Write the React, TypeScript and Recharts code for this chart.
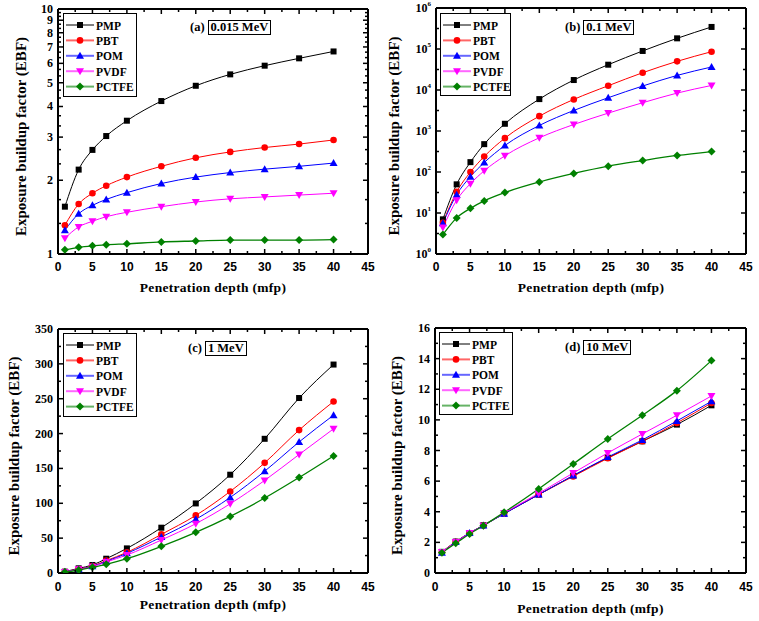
import { LineChart, Line, XAxis, YAxis, Label } from 'recharts';

const DEPTHS = [1, 3, 5, 7, 10, 15, 20, 25, 30, 35, 40];
const SERIES_NAMES = ['PMP', 'PBT', 'POM', 'PVDF', 'PCTFE'];
const SERIES_COLORS = ['#000000', '#ff0000', '#0000ff', '#ff00ff', '#008000'];
const SERIES_SHAPES = ['square', 'circle', 'up', 'down', 'diamond'];

// (a) 0.015 MeV
const PMP_A = [1.56, 2.21, 2.66, 3.03, 3.5, 4.21, 4.86, 5.41, 5.87, 6.29, 6.71];
const PBT_A = [1.31, 1.6, 1.77, 1.9, 2.06, 2.28, 2.47, 2.61, 2.72, 2.81, 2.92];
const POM_A = [1.25, 1.46, 1.58, 1.67, 1.78, 1.94, 2.06, 2.15, 2.22, 2.28, 2.35];
const PVDF_A = [1.16, 1.29, 1.36, 1.42, 1.48, 1.56, 1.63, 1.68, 1.71, 1.74, 1.77];
const PCTFE_A = [1.04, 1.065, 1.08, 1.09, 1.1, 1.12, 1.13, 1.14, 1.14, 1.14, 1.145];

// (b) 0.1 MeV
const PMP_B = [7.0, 50, 174, 478, 1500, 6000, 17500, 41400, 89600, 182000, 345000];
const PBT_B = [5.8, 32.7, 100, 239, 670, 2300, 5890, 12700, 26400, 50000, 86000];
const POM_B = [5.6, 28, 77, 170, 443, 1365, 3170, 6480, 12500, 22700, 36400];
const PVDF_B = [4.4, 20.5, 52, 107, 248, 682, 1440, 2730, 4890, 8410, 12900];
const PCTFE_B = [2.97, 7.6, 13.0, 19.7, 31.5, 57, 92, 139, 190, 253, 316];

// (c) 1 MeV
const PMP_C = [1.9, 6.7, 11.5, 20.5, 35.3, 65, 99.8, 141, 192.5, 251, 299];
const PBT_C = [1.7, 5.7, 10, 17.7, 29.6, 55.4, 82.6, 117, 158, 205, 246];
const POM_C = [1.7, 5.3, 9.6, 16.7, 28.2, 51.6, 77, 108.4, 146, 188, 226.4];
const PVDF_C = [1.6, 5.2, 9.1, 15.8, 25.8, 47.3, 70.7, 99.3, 132.8, 170, 206.8];
const PCTFE_C = [1.4, 4.3, 8.1, 12.4, 20.5, 38.2, 58.3, 81.2, 107.5, 137, 168];

// (d) 10 MeV
const PMP_D = [1.38, 2.05, 2.61, 3.12, 3.88, 5.12, 6.36, 7.53, 8.6, 9.69, 10.95];
const PBT_D = [1.36, 2.03, 2.6, 3.1, 3.88, 5.12, 6.31, 7.49, 8.6, 9.8, 11.1];
const POM_D = [1.33, 2.02, 2.61, 3.1, 3.87, 5.12, 6.36, 7.57, 8.69, 9.93, 11.21];
const PVDF_D = [1.37, 2.02, 2.61, 3.09, 3.92, 5.2, 6.53, 7.84, 9.08, 10.3, 11.56];
const PCTFE_D = [1.33, 1.94, 2.55, 3.09, 3.96, 5.49, 7.12, 8.75, 10.3, 11.91, 13.87];

const X_TICKS = [0, 2.5, 5, 7.5, 10, 12.5, 15, 17.5, 20, 22.5, 25, 27.5, 30, 32.5, 35, 37.5, 40, 42.5, 45];
const Y_TICKS_A = [1, 1.333, 1.667, 2, 2.333, 2.667, 3, 3.333, 3.667, 4, 4.333, 4.667, 5, 5.333, 5.667, 6, 6.333, 6.667, 7, 7.333, 7.667, 8, 8.333, 8.667, 9, 9.333, 9.667, 10];
const Y_TICKS_B = [1, 3.162, 10, 31.62, 100, 316.2, 1000, 3162, 10000, 31623, 100000, 316228, 1000000];
const Y_TICKS_C = [0, 25, 50, 75, 100, 125, 150, 175, 200, 225, 250, 275, 300, 325, 350];
const Y_TICKS_D = [0, 1, 2, 3, 4, 5, 6, 7, 8, 9, 10, 11, 12, 13, 14, 15, 16];

const SERIF = '"Liberation Serif", "Times New Roman", serif';
const SANS = '"Liberation Sans", Arial, sans-serif';

function buildRows(cols: number[][]) {
  return DEPTHS.map((d, i) => {
    const row: Record<string, number> = { x: d };
    SERIES_NAMES.forEach((n, k) => (row[n] = cols[k][i]));
    return row;
  });
}

function Marker({ shape, cx, cy, color }: { shape: string; cx: number; cy: number; color: string }) {
  if (shape === 'square') return <rect x={cx - 3} y={cy - 3} width={6} height={6} fill={color} />;
  if (shape === 'circle') return <circle cx={cx} cy={cy} r={3.3} fill={color} />;
  if (shape === 'up') return <polygon points={`${cx},${cy - 4} ${cx - 4},${cy + 3} ${cx + 4},${cy + 3}`} fill={color} />;
  if (shape === 'down') return <polygon points={`${cx},${cy + 4} ${cx - 4},${cy - 3} ${cx + 4},${cy - 3}`} fill={color} />;
  return <polygon points={`${cx},${cy - 4} ${cx + 4},${cy} ${cx},${cy + 4} ${cx - 4},${cy}`} fill={color} />;
}

const isMajorX = (v: number) => v % 5 === 0;

function makeTick(side: string, isMajor: (v: number) => boolean, label?: (v: number) => any, off = 17) {
  return (props: any) => {
    const { x, y, payload } = props;
    const v = payload.value;
    const len = isMajor(v) ? 5 : 3;
    let line;
    if (side === 'bottom') line = <line x1={x} x2={x} y1={y} y2={y - len} stroke="#000" strokeWidth={1.5} />;
    else if (side === 'top') line = <line x1={x} x2={x} y1={y} y2={y + len} stroke="#000" strokeWidth={1.5} />;
    else if (side === 'left') line = <line x1={x} x2={x + len} y1={y} y2={y} stroke="#000" strokeWidth={1.5} />;
    else line = <line x1={x} x2={x - len} y1={y} y2={y} stroke="#000" strokeWidth={1.5} />;
    let text = null;
    if (label && isMajor(v)) {
      if (side === 'bottom')
        text = (
          <text x={x} y={y + off} textAnchor="middle" fontFamily={SANS} fontWeight="bold" fontSize={12} fill="#000">
            {label(v)}
          </text>
        );
      else
        text = (
          <text x={x - 5} y={y + 4} textAnchor="end" fontFamily={SERIF} fontWeight="bold" fontSize={12} fill="#000">
            {label(v)}
          </text>
        );
    }
    return (
      <g>
        {line}
        {text}
      </g>
    );
  };
}

const powLabel = (v: number) => {
  const e = Math.round(Math.log10(v));
  return (
    <>
      <tspan>10</tspan>
      <tspan dy={-6} fontSize={7}>
        {e}
      </tspan>
    </>
  );
};

interface PanelProps {
  left: number;
  top: number;
  width: number;
  height: number;
  plot: { l: number; t: number; r: number; b: number };
  cols: number[][];
  log?: boolean;
  yDomain: number[];
  yTicks: number[];
  isMajorY: (v: number) => boolean;
  yLabel: (v: number) => any;
  yTitleX: number;
  xTitleY: number;
  xTickOff: number;
  letter: string;
  energy: string;
  tagPos: { x: number; y: number };
  legendPos: { x: number; y: number; w: number; h: number };
}

function Panel(p: PanelProps) {
  const rows = buildRows(p.cols);
  const rightW = p.width - p.plot.r;
  const bottomH = p.height - p.plot.b;
  return (
    <div style={{ position: 'absolute', left: p.left, top: p.top, width: p.width, height: p.height }}>
      <LineChart width={p.width} height={p.height} data={rows} margin={{ top: 0, right: 0, bottom: 0, left: 0 }}>
        <XAxis
          xAxisId="bottom"
          dataKey="x"
          type="number"
          domain={[0, 45]}
          ticks={X_TICKS}
          interval={0}
          height={bottomH}
          tickSize={0}
          tickMargin={0}
          tickLine={false}
          axisLine={{ stroke: '#000', strokeWidth: 2 }}
          tick={makeTick('bottom', isMajorX, (v) => v, p.xTickOff)}
        >
          <Label
            content={(lp: any) => {
              const vb = lp.viewBox;
              return (
                <text
                  x={vb.x + vb.width / 2}
                  y={p.xTitleY + 4.5}
                  textAnchor="middle"
                  fontFamily={SERIF}
                  fontWeight="bold"
                  fontSize={13.5}
                  letterSpacing={0.3}
                  fill="#000"
                >
                  Penetration depth (mfp)
                </text>
              );
            }}
          />
        </XAxis>
        <XAxis
          xAxisId="top"
          orientation="top"
          dataKey="x"
          type="number"
          domain={[0, 45]}
          ticks={X_TICKS}
          interval={0}
          height={p.plot.t}
          tickSize={0}
          tickMargin={0}
          tickLine={false}
          axisLine={{ stroke: '#000', strokeWidth: 2 }}
          tick={makeTick('top', isMajorX)}
        />
        <YAxis
          yAxisId="left"
          type="number"
          scale={p.log ? 'log' : 'linear'}
          domain={p.yDomain}
          ticks={p.yTicks}
          interval={0}
          width={p.plot.l}
          tickSize={0}
          tickMargin={0}
          tickLine={false}
          allowDataOverflow
          axisLine={{ stroke: '#000', strokeWidth: 2 }}
          tick={makeTick('left', p.isMajorY, p.yLabel)}
        >
          <Label
            content={(lp: any) => {
              const vb = lp.viewBox;
              const cy = vb.y + vb.height / 2 + 5;
              return (
                <text
                  transform={`translate(${p.yTitleX + 5},${cy}) rotate(-90)`}
                  textAnchor="middle"
                  fontFamily={SERIF}
                  fontWeight="bold"
                  fontSize={15}
                  fill="#000"
                >
                  Exposure buildup factor (EBF)
                </text>
              );
            }}
          />
        </YAxis>
        <YAxis
          yAxisId="right"
          orientation="right"
          type="number"
          scale={p.log ? 'log' : 'linear'}
          domain={p.yDomain}
          ticks={p.yTicks}
          interval={0}
          width={rightW}
          tickSize={0}
          tickMargin={0}
          tickLine={false}
          allowDataOverflow
          axisLine={{ stroke: '#000', strokeWidth: 2 }}
          tick={makeTick('right', p.isMajorY)}
        />
        {SERIES_NAMES.map((n, k) => (
          <Line
            key={n}
            xAxisId="bottom"
            yAxisId="left"
            dataKey={n}
            type="monotone"
            stroke={SERIES_COLORS[k]}
            strokeWidth={k === 4 ? 1.3 : 1}
            isAnimationActive={false}
            dot={(dp: any) => (
              <Marker key={`${n}-${dp.index}`} shape={SERIES_SHAPES[k]} cx={dp.cx} cy={dp.cy} color={SERIES_COLORS[k]} />
            )}
            activeDot={false}
          />
        ))}
      </LineChart>
      <div
        style={{
          position: 'absolute',
          left: p.legendPos.x,
          top: p.legendPos.y,
          width: p.legendPos.w,
          height: p.legendPos.h,
          border: '1px solid #000',
          boxSizing: 'border-box',
          background: '#fff',
        }}
      >
        <svg width={p.legendPos.w - 2} height={p.legendPos.h - 2} style={{ display: 'block' }}>
          {SERIES_NAMES.map((n, k) => {
            const cy = 11 + k * 15.4;
            return (
              <g key={n}>
                <line x1={2} x2={30} y1={cy} y2={cy} stroke={SERIES_COLORS[k]} strokeWidth={k === 0 ? 1 : 2} strokeOpacity={k === 0 ? 1 : 0.6} />
                <Marker shape={SERIES_SHAPES[k]} cx={16} cy={cy} color={SERIES_COLORS[k]} />
                <text x={32} y={cy + 4.5} fontFamily={SERIF} fontWeight="bold" fontSize={11.5} fill="#000">
                  {n}
                </text>
              </g>
            );
          })}
        </svg>
      </div>
      <div
        style={{
          position: 'absolute',
          left: p.tagPos.x,
          top: p.tagPos.y,
          fontFamily: SERIF,
          fontWeight: 'bold',
          fontSize: 12.5,
          lineHeight: '13px',
          whiteSpace: 'nowrap',
          display: 'flex',
          alignItems: 'center',
        }}
      >
        <span>({p.letter})</span>
        <span style={{ border: '1px solid #000', padding: '0 2px', marginLeft: 3 }}>{p.energy}</span>
      </div>
    </div>
  );
}

export default function App() {
  return (
    <div style={{ position: 'absolute', left: 0, top: 0, width: 759, height: 621, background: '#fff' }}>
      <Panel
        left={0}
        top={0}
        width={380}
        height={300}
        plot={{ l: 58, t: 9, r: 368, b: 254 }}
        cols={[PMP_A, PBT_A, POM_A, PVDF_A, PCTFE_A]}
        log
        yDomain={[1, 10]}
        yTicks={Y_TICKS_A}
        isMajorY={(v) => Math.abs(v - Math.round(v)) < 0.01}
        yLabel={(v) => Math.round(v)}
        yTitleX={21}
        xTitleY={287}
        xTickOff={17}
        letter="a"
        energy="0.015 MeV"
        tagPos={{ x: 190, y: 20 }}
        legendPos={{ x: 63, y: 13, w: 74, h: 84 }}
      />
      <Panel
        left={380}
        top={0}
        width={379}
        height={300}
        plot={{ l: 56, t: 8, r: 366, b: 254 }}
        cols={[PMP_B, PBT_B, POM_B, PVDF_B, PCTFE_B]}
        log
        yDomain={[1, 1000000]}
        yTicks={Y_TICKS_B}
        isMajorY={(v) => Math.abs(Math.log10(v) - Math.round(Math.log10(v))) < 0.01}
        yLabel={powLabel}
        yTitleX={14}
        xTitleY={287}
        xTickOff={17}
        letter="b"
        energy="0.1 MeV"
        tagPos={{ x: 185, y: 20 }}
        legendPos={{ x: 60, y: 13, w: 71, h: 83 }}
      />
      <Panel
        left={0}
        top={300}
        width={380}
        height={321}
        plot={{ l: 58, t: 29, r: 368, b: 273 }}
        cols={[PMP_C, PBT_C, POM_C, PVDF_C, PCTFE_C]}
        yDomain={[0, 350]}
        yTicks={Y_TICKS_C}
        isMajorY={(v) => v % 50 === 0}
        yLabel={(v) => v}
        yTitleX={14}
        xTitleY={304}
        xTickOff={18}
        letter="c"
        energy="1 MeV"
        tagPos={{ x: 188, y: 41 }}
        legendPos={{ x: 63, y: 33, w: 74, h: 84 }}
      />
      <Panel
        left={380}
        top={300}
        width={379}
        height={321}
        plot={{ l: 55, t: 28, r: 366, b: 273 }}
        cols={[PMP_D, PBT_D, POM_D, PVDF_D, PCTFE_D]}
        yDomain={[0, 16]}
        yTicks={Y_TICKS_D}
        isMajorY={(v) => v % 2 === 0}
        yLabel={(v) => v}
        yTitleX={17}
        xTitleY={308}
        xTickOff={18}
        letter="d"
        energy="10 MeV"
        tagPos={{ x: 185, y: 40 }}
        legendPos={{ x: 59, y: 32, w: 74, h: 83 }}
      />
    </div>
  );
}
